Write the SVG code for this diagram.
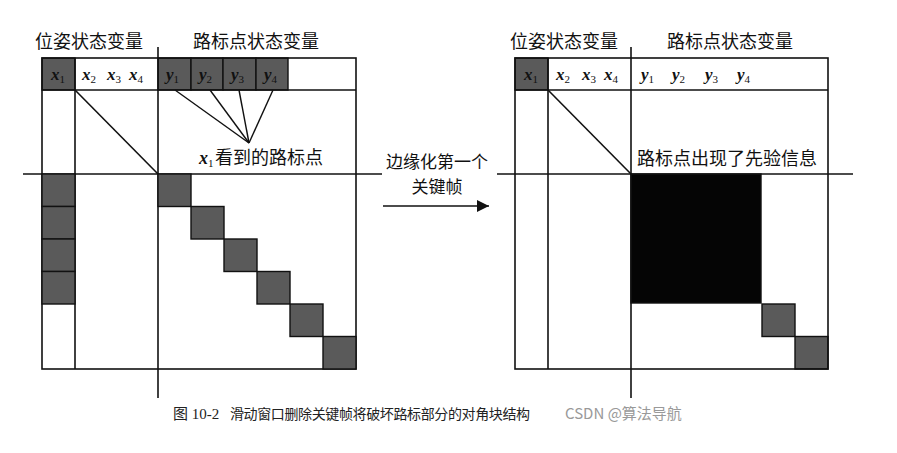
<svg xmlns="http://www.w3.org/2000/svg" width="897" height="453" viewBox="0 0 897 453">
<style>
.ln{stroke:#111;stroke-width:1.6;fill:none}
.thin{stroke:#111;stroke-width:1.4;fill:none}
.g{fill:#5a5a5a;stroke:#111;stroke-width:1.4}
.blk{fill:#050505;stroke:#111;stroke-width:1.4}
.cj{font-family:"Noto Sans CJK SC",sans-serif;font-size:18px;fill:#111}
.v{font-family:"Liberation Serif",serif;font-weight:bold;font-style:italic;font-size:17px;fill:#111}
.sub{font-family:"Liberation Serif",serif;font-size:11px;font-style:normal;font-weight:normal}
.cap{font-family:"Liberation Serif","Noto Sans CJK SC",serif;font-size:15px;fill:#222}
.wm{font-family:"Noto Sans CJK SC",sans-serif;font-size:15px;fill:#999}
</style>
<defs>
<marker id="ah" viewBox="0 0 10 10" refX="10" refY="5" markerWidth="18" markerHeight="12" markerUnits="userSpaceOnUse" orient="auto">
<path d="M0,0 L10,5 L0,10 z" fill="#111"/>
</marker>
</defs>

<g id="left-matrix">
<rect class="g" x="42" y="58" width="33" height="32"/>
<rect class="g" x="158" y="58" width="33" height="32"/>
<rect class="g" x="191" y="58" width="32" height="32"/>
<rect class="g" x="223" y="58" width="33" height="32"/>
<rect class="g" x="256" y="58" width="32" height="32"/>
<rect class="ln" x="42" y="58" width="314" height="311"/>
<line class="ln" x1="42" y1="90" x2="356" y2="90"/>
<line class="ln" x1="75" y1="58" x2="75" y2="369"/>
<line class="ln" x1="158" y1="47" x2="158" y2="398"/>
<line class="ln" x1="23" y1="174" x2="382" y2="174"/>
<line class="ln" x1="75" y1="90" x2="158" y2="174"/>
<rect class="g" x="42" y="174" width="33" height="32.5"/>
<rect class="g" x="42" y="206.5" width="33" height="32.5"/>
<rect class="g" x="42" y="239" width="33" height="32.5"/>
<rect class="g" x="42" y="271.5" width="33" height="32.5"/>
<rect class="g" x="158" y="174" width="33" height="32.5"/>
<rect class="g" x="191" y="206.5" width="33" height="32.5"/>
<rect class="g" x="224" y="239" width="33" height="32.5"/>
<rect class="g" x="257" y="271.5" width="33" height="32.5"/>
<rect class="g" x="290" y="304" width="33" height="32.5"/>
<rect class="g" x="323" y="336.5" width="33" height="32.5"/>
<text class="v" x="51" y="80">x<tspan class="sub" dy="3">1</tspan></text>
<text class="v" x="82" y="80">x<tspan class="sub" dy="3">2</tspan></text>
<text class="v" x="107" y="80">x<tspan class="sub" dy="3">3</tspan></text>
<text class="v" x="129" y="80">x<tspan class="sub" dy="3">4</tspan></text>
<text class="v" x="166" y="80">y<tspan class="sub" dy="3">1</tspan></text>
<text class="v" x="199" y="80">y<tspan class="sub" dy="3">2</tspan></text>
<text class="v" x="231" y="80">y<tspan class="sub" dy="3">3</tspan></text>
<text class="v" x="264" y="80">y<tspan class="sub" dy="3">4</tspan></text>
<text class="cj" x="35" y="48">位姿状态变量</text>
<text class="cj" x="193" y="48">路标点状态变量</text>
<text class="v" x="199" y="164" style="font-size:18px">x<tspan class="sub" dy="3">1</tspan></text>
<text class="cj" x="215" y="164">看到的路标点</text>
</g>

<g id="connectors">
<line class="thin" x1="175" y1="90" x2="249" y2="143"/>
<line class="thin" x1="210" y1="90" x2="249" y2="143"/>
<line class="thin" x1="239" y1="90" x2="249" y2="143"/>
<line class="thin" x1="273" y1="90" x2="249" y2="143"/>
<line class="ln" x1="383" y1="206" x2="489" y2="206" marker-end="url(#ah)"/>
</g>

<g id="arrow-label">
<text class="cj" x="437" y="168" text-anchor="middle" style="font-size:17px">边缘化第一个</text>
<text class="cj" x="437" y="193" text-anchor="middle" style="font-size:17px">关键帧</text>
</g>

<g id="right-matrix">
<rect class="g" x="515" y="58" width="33" height="32"/>
<rect class="blk" x="631" y="174" width="130" height="129"/>
<rect class="g" x="762" y="304" width="33" height="32.5"/>
<rect class="g" x="795" y="336.5" width="33" height="32.5"/>
<rect class="ln" x="515" y="58" width="313" height="311"/>
<line class="ln" x1="515" y1="90" x2="828" y2="90"/>
<line class="ln" x1="548" y1="58" x2="548" y2="369"/>
<line class="ln" x1="631" y1="47" x2="631" y2="398"/>
<line class="ln" x1="497" y1="174" x2="853" y2="174"/>
<line class="ln" x1="548" y1="90" x2="631" y2="174"/>
<text class="v" x="524" y="80">x<tspan class="sub" dy="3">1</tspan></text>
<text class="v" x="556" y="80">x<tspan class="sub" dy="3">2</tspan></text>
<text class="v" x="582" y="80">x<tspan class="sub" dy="3">3</tspan></text>
<text class="v" x="604" y="80">x<tspan class="sub" dy="3">4</tspan></text>
<text class="v" x="641" y="80">y<tspan class="sub" dy="3">1</tspan></text>
<text class="v" x="672" y="80">y<tspan class="sub" dy="3">2</tspan></text>
<text class="v" x="705" y="80">y<tspan class="sub" dy="3">3</tspan></text>
<text class="v" x="737" y="80">y<tspan class="sub" dy="3">4</tspan></text>
<text class="cj" x="510" y="48">位姿状态变量</text>
<text class="cj" x="667" y="48">路标点状态变量</text>
<text class="cj" x="637" y="165">路标点出现了先验信息</text>
</g>

<g id="caption">
<text class="cap" x="173" y="419">图 10-2</text>
<text class="cap" x="230" y="419" style="font-family:'Noto Sans CJK SC',sans-serif;font-size:14px" textLength="300" lengthAdjust="spacing">滑动窗口删除关键帧将破坏路标部分的对角块结构</text>
<text class="wm" x="565" y="419">CSDN @算法导航</text>
</g>
</svg>
